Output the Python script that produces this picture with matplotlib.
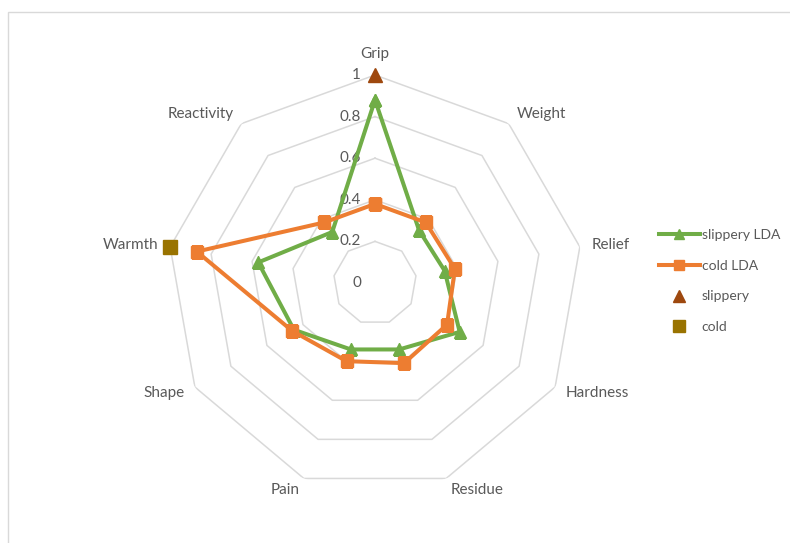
import numpy as np
import matplotlib.pyplot as plt
from matplotlib.patches import Rectangle

categories = ['Grip', 'Weight', 'Relief', 'Hardness', 'Residue', 'Pain', 'Shape', 'Warmth', 'Reactivity']
slippery_lda = [0.88, 0.33, 0.34, 0.47, 0.34, 0.34, 0.45, 0.57, 0.32]
cold_lda = [0.38, 0.38, 0.39, 0.40, 0.41, 0.40, 0.46, 0.87, 0.38]
slippery = [1.0, None, None, None, None, None, None, None, None]
cold = [None, None, None, None, None, None, None, 1.0, None]
ticks = [0, 0.2, 0.4, 0.6, 0.8, 1.0]
tick_labels = ['0', '0.2', '0.4', '0.6', '0.8', '1']

text_col = '#595959'
grid_col = '#D9D9D9'
plt.rcParams['font.family'] = ['Lato', 'DejaVu Sans']

n = len(categories)
theta = np.pi / 2 - np.arange(n) * 2 * np.pi / n  # clockwise from top
theta_closed = np.append(theta, theta[0])

fig = plt.figure(figsize=(7.9, 5.43), dpi=100)
fig.patches.append(Rectangle((8 / 790, -0.1), 1.2, 1.1 - 12 / 543, transform=fig.transFigure,
                             fill=False, edgecolor=grid_col, linewidth=1.0))

ax = fig.add_axes([167 / 790, 52 / 543, 416 / 790, 416 / 543], projection='polar')
ax.set_ylim(0, 1)
ax.set_xticks([])
ax.set_yticks([])
ax.grid(False)
ax.spines['polar'].set_visible(False)

# polygon gridlines
for t in ticks[1:]:
    ax.plot(theta_closed, [t] * (n + 1), color=grid_col, linewidth=1.1, zorder=1)

# radial tick labels left of the Grip spoke
for t, lab in zip(ticks, tick_labels):
    ax.annotate(lab, xy=(np.pi / 2, t), xytext=(-14, 0), textcoords='offset pixels',
                ha='right', va='center', fontsize=11, color=text_col)

# category labels
for ang, lab in zip(theta, categories):
    c, s = np.cos(ang), np.sin(ang)
    if abs(c) < 0.05:
        ax.annotate(lab, xy=(ang, 1.0), xytext=(0, 14), textcoords='offset pixels',
                    ha='center', va='bottom', fontsize=11, color=text_col)
        continue
    ha = 'left' if c > 0 else 'right'
    ax.annotate(lab, xy=(ang, 1.0), xytext=(12 * c, 12 * s), textcoords='offset pixels',
                ha=ha, va='center', fontsize=11, color=text_col)

ax.plot(theta_closed, slippery_lda + slippery_lda[:1], color='#70AD47', linewidth=2.9,
        marker='^', markersize=8.5, label='slippery LDA', zorder=3)
ax.plot(theta_closed, cold_lda + cold_lda[:1], color='#ED7D31', linewidth=2.9,
        marker='s', markersize=8.5, label='cold LDA', zorder=4)

s_th = [a for a, v in zip(theta, slippery) if v is not None]
s_v = [v for v in slippery if v is not None]
ax.plot(s_th, s_v, linestyle='none', marker='^', markersize=10, color='#9E480E',
        label='slippery', zorder=5, clip_on=False)
c_th = [a for a, v in zip(theta, cold) if v is not None]
c_v = [v for v in cold if v is not None]
ax.plot(c_th, c_v, linestyle='none', marker='s', markersize=10, color='#997300',
        label='cold', zorder=5, clip_on=False)

leg = fig.legend(loc='center left', bbox_to_anchor=(646 / 790, 1 - 281 / 543), frameon=False,
                 fontsize=10, labelspacing=1.35, handlelength=3.0, handletextpad=0.1,
                 markerscale=0.8)
for txt in leg.get_texts():
    txt.set_color(text_col)

fig.savefig('out.png', dpi=100, facecolor='white')
